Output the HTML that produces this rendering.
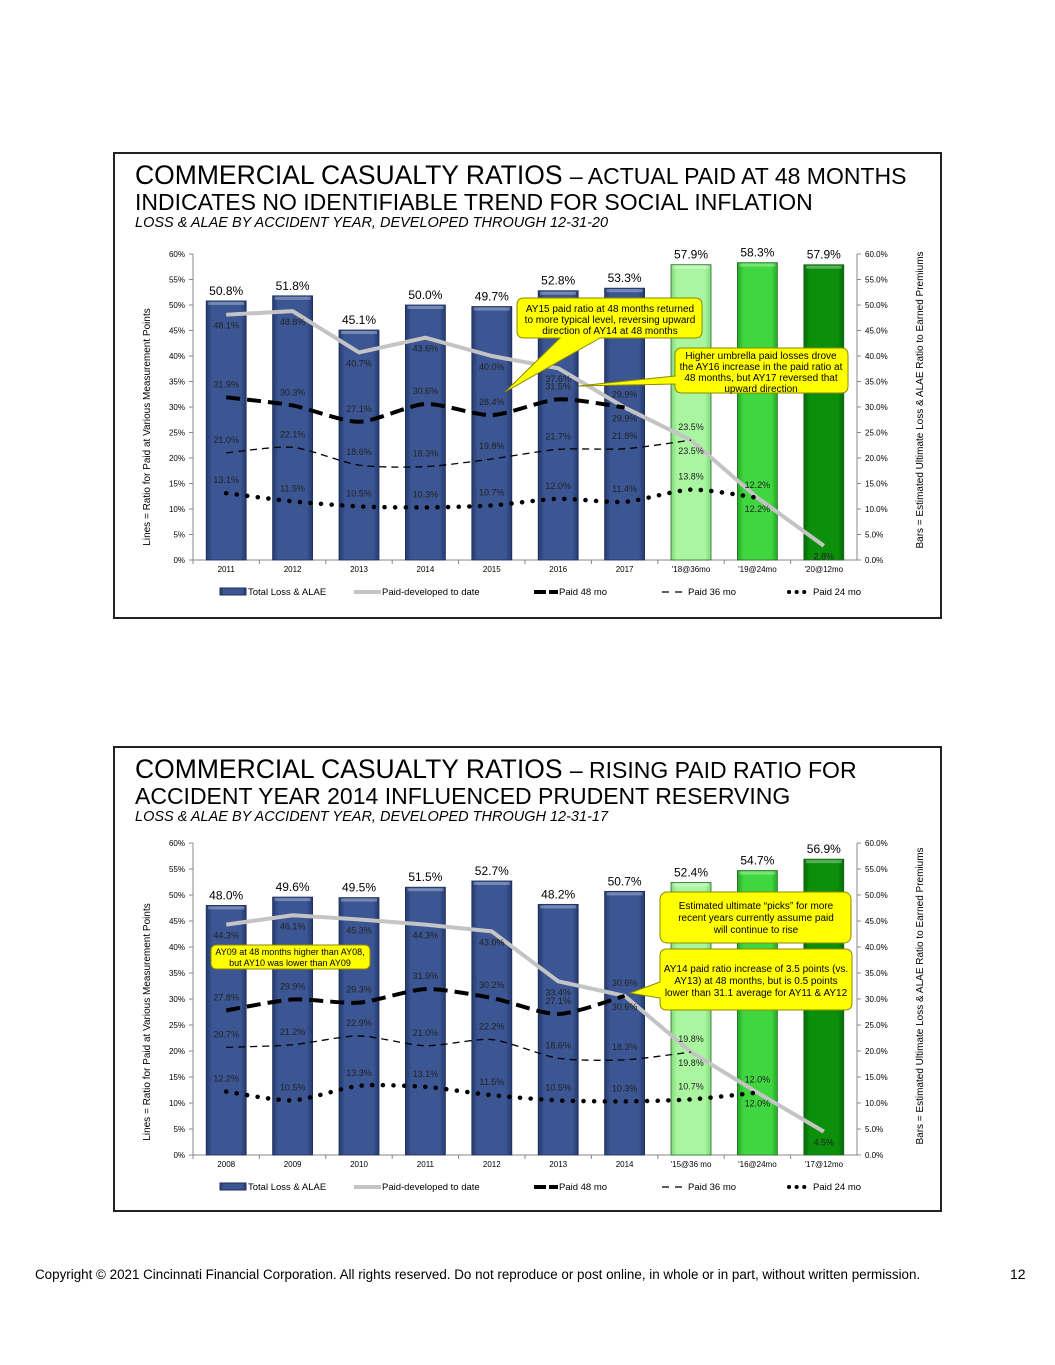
<!DOCTYPE html>
<html><head><meta charset="utf-8"><style>
body{margin:0;background:#fff;font-family:"Liberation Sans",sans-serif;}
svg{display:block}
</style></head><body>
<svg id="s" width="1055" height="1365" xmlns="http://www.w3.org/2000/svg" font-family="Liberation Sans, sans-serif">
<defs>
<linearGradient id="gn" x1="0" x2="1"><stop offset="0" stop-color="#24396e"/><stop offset="0.15" stop-color="#3c5694"/><stop offset="0.85" stop-color="#3c5694"/><stop offset="1" stop-color="#24396e"/></linearGradient>
<linearGradient id="g1" x1="0" x2="1"><stop offset="0" stop-color="#7fd87a"/><stop offset="0.15" stop-color="#aaf6a0"/><stop offset="0.85" stop-color="#aaf6a0"/><stop offset="1" stop-color="#7fd87a"/></linearGradient>
<linearGradient id="g2" x1="0" x2="1"><stop offset="0" stop-color="#22a822"/><stop offset="0.15" stop-color="#40d640"/><stop offset="0.85" stop-color="#40d640"/><stop offset="1" stop-color="#22a822"/></linearGradient>
<linearGradient id="g3" x1="0" x2="1"><stop offset="0" stop-color="#066806"/><stop offset="0.15" stop-color="#0c900c"/><stop offset="0.85" stop-color="#0c900c"/><stop offset="1" stop-color="#066806"/></linearGradient>
</defs>
<rect x="114" y="153" width="827" height="465" fill="#fff" stroke="#222" stroke-width="2"/>
<rect x="114" y="747" width="827" height="464" fill="#fff" stroke="#222" stroke-width="2"/>
<text x="135" y="184" font-size="26.5">COMMERCIAL CASUALTY RATIOS <tspan font-size="23">– ACTUAL PAID AT 48 MONTHS</tspan></text>
<text x="135" y="210" font-size="23">INDICATES NO IDENTIFIABLE TREND FOR SOCIAL INFLATION</text>
<text x="135" y="227" font-size="14.5" font-style="italic">LOSS &amp; ALAE BY ACCIDENT YEAR, DEVELOPED THROUGH 12-31-20</text>
<text x="135" y="778" font-size="26.5">COMMERCIAL CASUALTY RATIOS <tspan font-size="23">– RISING PAID RATIO FOR</tspan></text>
<text x="135" y="804" font-size="23">ACCIDENT YEAR 2014 INFLUENCED PRUDENT RESERVING</text>
<text x="135" y="821" font-size="14.5" font-style="italic">LOSS &amp; ALAE BY ACCIDENT YEAR, DEVELOPED THROUGH 12-31-17</text>
<text transform="translate(150,427) rotate(-90)" text-anchor="middle" font-size="10">Lines = Ratio for Paid at Various Measurement Points</text>
<text transform="translate(923,400) rotate(-90)" text-anchor="middle" font-size="10">Bars = Estimated Ultimate Loss &amp; ALAE Ratio to Earned Premiums</text>
<text transform="translate(150,1022) rotate(-90)" text-anchor="middle" font-size="10">Lines = Ratio for Paid at Various Measurement Points</text>
<text transform="translate(923,996) rotate(-90)" text-anchor="middle" font-size="10">Bars = Estimated Ultimate Loss &amp; ALAE Ratio to Earned Premiums</text>
<g id="c1"></g><g id="c2"></g>
<g font-size="12" text-anchor="middle">
<path d="M517,305 q0,-7 7,-7 h171 q7,0 7,7 v26 q0,7 -7,7 h-95 L505,392 L560,338 h-36 q-7,0 -7,-7z" fill="#ffff00" stroke="#8a8a00"/>
<text font-size="10" x="610" y="312">AY15 paid ratio at 48 months returned</text>
<text font-size="10" x="610" y="323">to more typical level, reversing upward</text>
<text font-size="10" x="610" y="334">direction of AY14 at 48 months</text>
<path d="M675,355 q0,-7 7,-7 h159 q7,0 7,7 v31 q0,7 -7,7 h-159 q-7,0 -7,-7 v-2 L578,386 L675,376z" fill="#ffff00" stroke="#8a8a00"/>
<text font-size="10" x="761" y="359">Higher umbrella paid losses drove</text>
<text font-size="10" x="761" y="370">the AY16 increase in the paid ratio at</text>
<text font-size="10" x="761" y="381">48 months, but AY17 reversed that</text>
<text font-size="10" x="761" y="392">upward direction</text>
<rect x="211" y="945" width="159" height="24" rx="5" fill="#ffff00" stroke="#8a8a00"/>
<text font-size="9" x="290" y="955">AY09 at 48 months higher than AY08,</text>
<text font-size="9" x="290" y="966">but AY10 was lower than AY09</text>
<rect x="660" y="892" width="191" height="51" rx="7" fill="#ffff00" stroke="#8a8a00"/>
<text font-size="10" x="756" y="909">Estimated ultimate “picks” for more</text>
<text font-size="10" x="756" y="921">recent years currently assume paid</text>
<text font-size="10" x="756" y="933">will continue to rise</text>
<path d="M667,949 h178 q7,0 7,7 v47 q0,7 -7,7 h-178 q-7,0 -7,-7 v-5 L630,993 L660,982 v-26 q0,-7 7,-7z" fill="#ffff00" stroke="#8a8a00"/>
<text font-size="10" x="756" y="972">AY14 paid ratio increase of 3.5 points (vs.</text>
<text font-size="10" x="756" y="984">AY13) at 48 months, but is 0.5 points</text>
<text font-size="10" x="756" y="996">lower than 31.1 average for AY11 &amp; AY12</text>
</g>
<text x="35" y="1279" font-size="13.4">Copyright © 2021 Cincinnati Financial Corporation. All rights reserved. Do not reproduce or post online, in whole or in part, without written permission.</text>
<text x="1010" y="1279" font-size="14">12</text>
</svg>
<script>
var NS="http://www.w3.org/2000/svg";
function el(p,t,a,tx){var e=document.createElementNS(NS,t);for(var k in a)e.setAttribute(k,a[k]);if(tx!=null)e.textContent=tx;p.appendChild(e);return e;}
function curve(pts,t){var d="M"+pts[0][0]+","+pts[0][1];for(var i=0;i<pts.length-1;i++){var p0=pts[i-1]||pts[i],p1=pts[i],p2=pts[i+1],p3=pts[i+2]||p2;d+=" C"+(p1[0]+(p2[0]-p0[0])*t)+","+(p1[1]+(p2[1]-p0[1])*t)+" "+(p2[0]-(p3[0]-p1[0])*t)+","+(p2[1]-(p3[1]-p1[1])*t)+" "+p2[0]+","+p2[1];}return d;}
function chart(g,top,bot,cats,bars,grey,p48,p36,p24){
 var L=193,R=857,cw=(R-L)/10,sc=(bot-top)/60;
 function Y(v){return bot-v*sc;}
 function X(i){return L+cw*(i+0.5);}
 el(g,"line",{x1:L,y1:top,x2:L,y2:bot,stroke:"#888"});
 el(g,"line",{x1:R,y1:top,x2:R,y2:bot,stroke:"#888"});
 el(g,"line",{x1:L,y1:bot,x2:R,y2:bot,stroke:"#888"});
 for(var v=0;v<=60;v+=5){var y=Y(v);
  el(g,"line",{x1:L-4,y1:y,x2:L,y2:y,stroke:"#888"});
  el(g,"line",{x1:R,y1:y,x2:R+4,y2:y,stroke:"#888"});
  el(g,"text",{x:L-8,y:y+3,"font-size":8,"text-anchor":"end"},v+"%");
  el(g,"text",{x:R+8,y:y+3,"font-size":8},v.toFixed(1)+"%");}
 var fills=["gn","gn","gn","gn","gn","gn","gn","g1","g2","g3"];
 for(var i=0;i<10;i++){var x=X(i)-20,y=Y(bars[i]);
  el(g,"line",{x1:L+cw*i,y1:bot,x2:L+cw*i,y2:bot+4,stroke:"#888"});
  el(g,"rect",{x:x,y:y,width:40,height:bot-y,fill:"url(#"+fills[i]+")",stroke:i<7?"#1e2f5c":"#2a6a2a","stroke-width":0.8});
  el(g,"rect",{x:x+2,y:y+1,width:36,height:3,fill:"#fff",opacity:0.3});
  el(g,"text",{x:X(i),y:y-6,"font-size":12,"text-anchor":"middle"},bars[i].toFixed(1)+"%");
  el(g,"text",{x:X(i),y:bot+12,"font-size":8,"text-anchor":"middle"},cats[i]);}
 function line(arr,attrs,t,off){var pts=arr.map(function(v,i){return[X(i),Y(v)];});
  attrs.d=t?curve(pts,t):"M"+pts.map(function(p){return p.join(",");}).join(" L");attrs.fill="none";el(g,"path",attrs);
  arr.forEach(function(v,i){el(g,"text",{x:X(i),y:Y(v)+off,"font-size":9,"text-anchor":"middle",fill:"#222"},v.toFixed(1)+"%");});}
 line(grey,{stroke:"#c4c4c4","stroke-width":4,"stroke-linejoin":"round"},0,14);
 line(p48,{stroke:"#000","stroke-width":4,"stroke-dasharray":"14,7"},0.12,-10);
 line(p36,{stroke:"#000","stroke-width":1.3,"stroke-dasharray":"7,5"},0.12,-10);
 line(p24,{stroke:"#000","stroke-width":4.5,"stroke-dasharray":"0.1,10.5","stroke-linecap":"round"},0.12,-10);
 var ly=bot+32;
 el(g,"rect",{x:220,y:ly-4,width:26,height:7,fill:"url(#gn)",stroke:"#1e2f5c"});
 el(g,"text",{x:248,y:ly+3,"font-size":9.5},"Total Loss & ALAE");
 el(g,"line",{x1:354,y1:ly,x2:381,y2:ly,stroke:"#c4c4c4","stroke-width":4});
 el(g,"text",{x:382,y:ly+3,"font-size":9.5},"Paid-developed to date");
 el(g,"line",{x1:534,y1:ly,x2:558,y2:ly,stroke:"#000","stroke-width":4,"stroke-dasharray":"12,3"});
 el(g,"text",{x:559,y:ly+3,"font-size":9.5},"Paid 48 mo");
 el(g,"line",{x1:662,y1:ly,x2:682,y2:ly,stroke:"#000","stroke-width":1.3,"stroke-dasharray":"7,6"});
 el(g,"text",{x:688,y:ly+3,"font-size":9.5},"Paid 36 mo");
 el(g,"line",{x1:789,y1:ly,x2:809,y2:ly,stroke:"#000","stroke-width":4,"stroke-dasharray":"0.1,7.5","stroke-linecap":"round"});
 el(g,"text",{x:813,y:ly+3,"font-size":9.5},"Paid 24 mo");
}
chart(document.getElementById("c1"),254,560,["2011","2012","2013","2014","2015","2016","2017","'18@36mo","'19@24mo","'20@12mo"],
[50.8,51.8,45.1,50.0,49.7,52.8,53.3,57.9,58.3,57.9],[48.1,48.8,40.7,43.6,40.0,37.6,29.9,23.5,12.2,2.8],
[31.9,30.3,27.1,30.6,28.4,31.5,29.9],[21.0,22.1,18.6,18.3,19.8,21.7,21.8,23.5],[13.1,11.5,10.5,10.3,10.7,12.0,11.4,13.8,12.2]);
chart(document.getElementById("c2"),843,1155,["2008","2009","2010","2011","2012","2013","2014","'15@36 mo","'16@24mo","'17@12mo"],
[48.0,49.6,49.5,51.5,52.7,48.2,50.7,52.4,54.7,56.9],[44.3,46.1,45.3,44.3,43.0,33.4,30.6,19.8,12.0,4.5],
[27.8,29.9,29.3,31.9,30.2,27.1,30.6],[20.7,21.2,22.9,21.0,22.2,18.6,18.3,19.8],[12.2,10.5,13.3,13.1,11.5,10.5,10.3,10.7,12.0]);
var s=document.getElementById("s");var gs=s.querySelectorAll("svg > g[font-size]");gs.forEach(function(n){s.appendChild(n);});
</script>
</body></html>
